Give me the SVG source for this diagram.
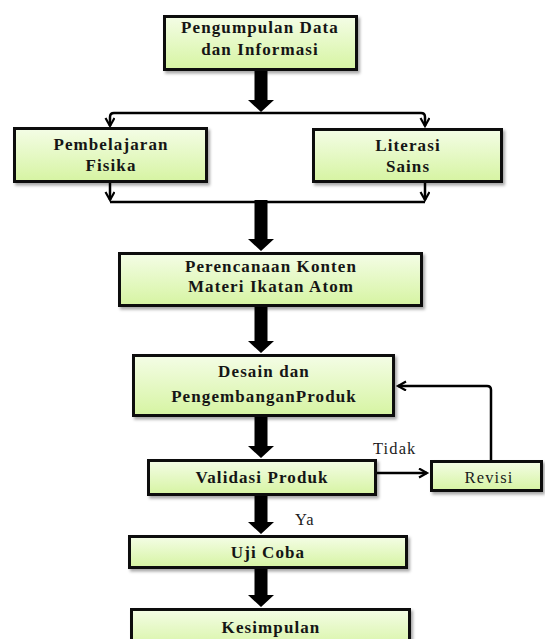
<svg xmlns="http://www.w3.org/2000/svg" width="545" height="639" viewBox="0 0 545 639">
<defs>
<linearGradient id="g" x1="0" y1="0" x2="0" y2="1">
<stop offset="0" stop-color="#f4fde6"/>
<stop offset="1" stop-color="#d6f4a2"/>
</linearGradient>
<filter id="sh" x="-10%" y="-20%" width="130%" height="160%">
<feDropShadow dx="2" dy="2.5" stdDeviation="1.5" flood-color="#000" flood-opacity="0.35"/>
</filter>
<marker id="chev" markerUnits="userSpaceOnUse" markerWidth="12" markerHeight="12" refX="9" refY="5" orient="auto">
<path d="M1,0.5 L9,5 L1,9.5" fill="none" stroke="#000" stroke-width="2.2"/>
</marker>
</defs>
<style>
.box{fill:url(#g);stroke:#111;stroke-width:3;filter:url(#sh)}
.lbl{font-family:"Liberation Serif",serif;font-weight:bold;font-size:17px;letter-spacing:1.1px;text-anchor:middle;fill:#151515}
.reg{font-family:"Liberation Serif",serif;font-size:16.5px;letter-spacing:1.1px;fill:#1c1c1c}
.thin{fill:none;stroke:#000;stroke-width:2.5}
.thick{fill:#000}
</style>
<g id="connectors">
<path class="thick" d="M254.5,71 L267.5,71 L267.5,100 L274,100 L261,112 L248,100 L254.5,100 Z"/>
<path class="thin" d="M261,113 L114,113 Q110,113 110,117 L110,126" marker-end="url(#chev)"/>
<path class="thin" d="M261,113 L421,113 Q425,113 425,117 L425,126" marker-end="url(#chev)"/>
<path class="thin" d="M110,183 L110,200" marker-end="url(#chev)"/>
<path class="thin" d="M425,183 L425,200" marker-end="url(#chev)"/>
<path class="thin" d="M110,202 L425,202"/>
<path class="thick" d="M254.5,200 L267.5,200 L267.5,239 L274,239 L261,251 L248,239 L254.5,239 Z"/>
<path class="thick" d="M254.5,307 L267.5,307 L267.5,341 L274,341 L261,353 L248,341 L254.5,341 Z"/>
<path class="thick" d="M254.5,417 L267.5,417 L267.5,446 L274,446 L261,458 L248,446 L254.5,446 Z"/>
<path class="thick" d="M254.5,496 L267.5,496 L267.5,522 L274,522 L261,534 L248,522 L254.5,522 Z"/>
<path class="thick" d="M254.5,569 L267.5,569 L267.5,595 L274,595 L261,607 L248,595 L254.5,595 Z"/>
<path class="thin" d="M377,473 L427,473" marker-end="url(#chev)"/>
<path class="thin" d="M491,460 L491,390 Q491,386 487,386 L398,386" marker-end="url(#chev)"/>
<text class="reg" x="373" y="454">Tidak</text>
<text class="reg" x="295" y="525">Ya</text>
</g>
<g id="n1"><rect class="box" x="164.5" y="16.5" width="192" height="53"/>
<text class="lbl" x="260" y="33">Pengumpulan Data</text><text class="lbl" x="260" y="55">dan Informasi</text></g>
<g id="n2"><rect class="box" x="14.5" y="128.5" width="192" height="53"/>
<text class="lbl" x="111" y="150">Pembelajaran</text><text class="lbl" x="111" y="171">Fisika</text></g>
<g id="n3"><rect class="box" x="313.5" y="129.5" width="188" height="52"/>
<text class="lbl" x="408" y="151">Literasi</text><text class="lbl" x="408" y="172">Sains</text></g>
<g id="n4"><rect class="box" x="119.5" y="253.5" width="302" height="52"/>
<text class="lbl" x="271" y="272">Perencanaan Konten</text><text class="lbl" x="271" y="292">Materi Ikatan Atom</text></g>
<g id="n5"><rect class="box" x="133.5" y="355.5" width="260" height="60"/>
<text class="lbl" x="264" y="377">Desain dan</text><text class="lbl" x="264" y="402">PengembanganProduk</text></g>
<g id="n6"><rect class="box" x="148.5" y="460.5" width="227" height="34"/>
<text class="lbl" x="262" y="483">Validasi Produk</text></g>
<g id="n7"><rect class="box" x="431.5" y="461.5" width="110" height="29"/>
<text class="reg" x="489" y="483" text-anchor="middle">Revisi</text></g>
<g id="n8"><rect class="box" x="129.5" y="536.5" width="277" height="31"/>
<text class="lbl" x="268" y="558">Uji Coba</text></g>
<g id="n9"><rect class="box" x="131.5" y="609.5" width="278" height="40"/>
<text class="lbl" x="271" y="633">Kesimpulan</text></g>
</svg>
